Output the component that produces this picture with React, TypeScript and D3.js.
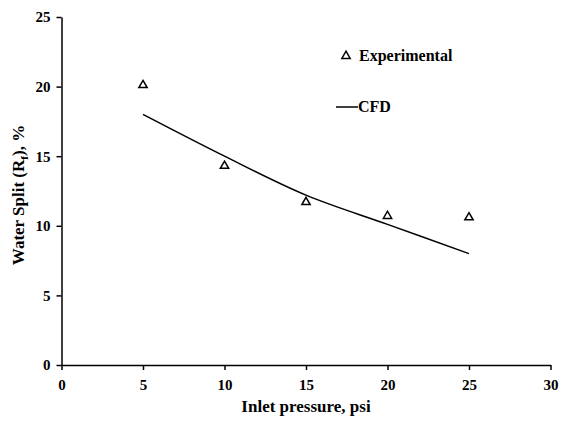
import React from "react";
import * as d3 from "d3";

const pressures = [5, 10, 15, 20, 25];
const experimental = [20.1, 14.3, 11.7, 10.7, 10.6];
const cfd = [18.0, 15.0, 12.2, 10.1, 8.0];
const xTicks = [0, 5, 10, 15, 20, 25, 30];
const yTicks = [0, 5, 10, 15, 20, 25];

export default function App() {
  const svgRef = React.useRef<SVGSVGElement>(null);

  React.useEffect(() => {
    const width = 562;
    const height = 421;
    const svg = d3.select(svgRef.current);
    svg.selectAll("*").remove();
    svg.attr("width", width).attr("height", height);

    const font = "'Liberation Serif', 'Times New Roman', serif";

    // scales
    const x = d3.scaleLinear().domain([0, 30]).range([61.5, 550.5]);
    const y = d3.scaleLinear().domain([0, 25]).range([365, 17]);

    // axes
    const xAxis = svg
      .append("g")
      .attr("transform", `translate(0, ${y(0)})`)
      .call(d3.axisBottom(x).tickValues(xTicks).tickSize(5).tickPadding(6).tickSizeOuter(0));
    const yAxis = svg
      .append("g")
      .attr("transform", `translate(${x(0)}, 0)`)
      .call(d3.axisLeft(y).tickValues(yTicks).tickSize(5).tickPadding(6).tickSizeOuter(0));

    [xAxis, yAxis].forEach((g) => {
      g.selectAll("path, line").attr("stroke", "#000").attr("stroke-width", 1.5);
      g.selectAll("text")
        .attr("fill", "#000")
        .style("font-family", font)
        .style("font-size", "15px")
        .style("font-weight", "bold");
    });
    xAxis.selectAll("text").attr("dy", "0.9em");

    // axis titles
    svg
      .append("text")
      .attr("x", 306)
      .attr("y", 412)
      .attr("text-anchor", "middle")
      .style("font-family", font)
      .style("font-size", "17px")
      .style("font-weight", "bold")
      .text("Inlet pressure, psi");

    const yt = svg
      .append("text")
      .attr("transform", `translate(24, 195) rotate(-90)`)
      .attr("text-anchor", "middle")
      .style("font-family", font)
      .style("font-size", "17px")
      .style("font-weight", "bold");
    yt.append("tspan").text("Water Split (R");
    yt.append("tspan").attr("dy", 4).style("font-size", "11px").text("f");
    yt.append("tspan").attr("dy", -4).text("), %");

    // CFD line
    const line = d3
      .line<number>()
      .x((_, i) => x(pressures[i]))
      .y((d) => y(d))
      .curve(d3.curveCatmullRom.alpha(0.5));
    svg
      .append("path")
      .datum(cfd)
      .attr("d", line)
      .attr("fill", "none")
      .attr("stroke", "#000")
      .attr("stroke-width", 1.5);

    // experimental points
    const tri = d3.symbol().type(d3.symbolTriangle).size(30);
    svg
      .selectAll(".exp")
      .data(experimental)
      .enter()
      .append("path")
      .attr("d", tri)
      .attr("transform", (d, i) => `translate(${x(pressures[i])}, ${y(d)})`)
      .attr("fill", "none")
      .attr("stroke", "#000")
      .attr("stroke-width", 1.5);

    // legend
    svg
      .append("path")
      .attr("d", tri)
      .attr("transform", "translate(346, 56)")
      .attr("fill", "none")
      .attr("stroke", "#000")
      .attr("stroke-width", 1.5);
    svg
      .append("text")
      .attr("x", 359)
      .attr("y", 61)
      .style("font-family", font)
      .style("font-size", "16px")
      .style("font-weight", "bold")
      .text("Experimental");
    svg
      .append("line")
      .attr("x1", 336)
      .attr("x2", 358)
      .attr("y1", 107)
      .attr("y2", 107)
      .attr("stroke", "#000")
      .attr("stroke-width", 1.5);
    svg
      .append("text")
      .attr("x", 358)
      .attr("y", 112)
      .style("font-family", font)
      .style("font-size", "16px")
      .style("font-weight", "bold")
      .text("CFD");
  }, []);

  return (
    <div style={{ position: "absolute", left: 0, top: 0 }}>
      <svg ref={svgRef} />
    </div>
  );
}
